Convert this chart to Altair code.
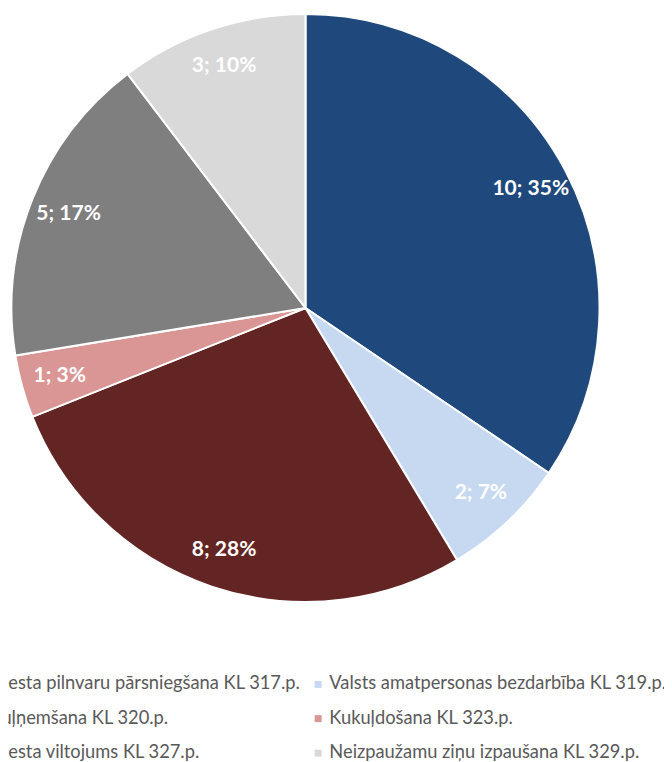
import altair as alt
import pandas as pd

categories = [
    "Dienesta pilnvaru pārsniegšana KL 317.p.",
    "Valsts amatpersonas bezdarbība KL 319.p.",
    "Kukuļņemšana KL 320.p.",
    "Kukuļdošana KL 323.p.",
    "Dienesta viltojums KL 327.p.",
    "Neizpaužamu ziņu izpaušana KL 329.p.",
]
counts = [10, 2, 8, 1, 5, 3]
percents = [35, 7, 28, 3, 17, 10]
colors = ["#1F497D", "#C6D9F1", "#632523", "#D99694", "#7F7F7F", "#D9D9D9"]

df = pd.DataFrame({
    "category": categories,
    "count": counts,
    "order": list(range(len(categories))),
    "label": [f"{c}; {p}%" for c, p in zip(counts, percents)],
})

# legend fills column by column: reorder so rows read 317|319, 320|323, 327|329
legend_order = [0, 2, 4, 1, 3, 5]
legend_domain = [categories[i] for i in legend_order]
legend_range = [colors[i] for i in legend_order]

FONT = "Lato"

base = alt.Chart(df).encode(
    theta=alt.Theta("count:Q", stack=True),
    order=alt.Order("order:Q"),
)

pie = base.mark_arc(outerRadius=294, stroke="white", strokeWidth=2).encode(
    color=alt.Color(
        "category:N",
        scale=alt.Scale(domain=legend_domain, range=legend_range),
        legend=alt.Legend(
            title=None,
            orient="none",
            legendX=-58,
            legendY=667,
            columns=2,
            columnPadding=8,
            rowPadding=15.5,
            symbolType="square",
            symbolSize=49,
            symbolStrokeWidth=0,
            labelOffset=2,
            labelFont=FONT,
            labelFontSize=18.3,
            labelColor="#595959",
            labelLimit=600,
        ),
    )
)

labels = base.mark_text(
    radius=255, font=FONT, fontSize=21, fontWeight="bold", color="white"
).encode(text="label:N")

chart = (
    (pie + labels)
    .properties(
        width=595,
        height=600,
        autosize=alt.AutoSizeParams(type="none"),
        padding={"left": 0, "top": 0, "right": 61, "bottom": 154},
    )
    .configure_view(stroke=None)
)

chart.save("out.html", embed_options={"renderer": "svg", "actions": False})
